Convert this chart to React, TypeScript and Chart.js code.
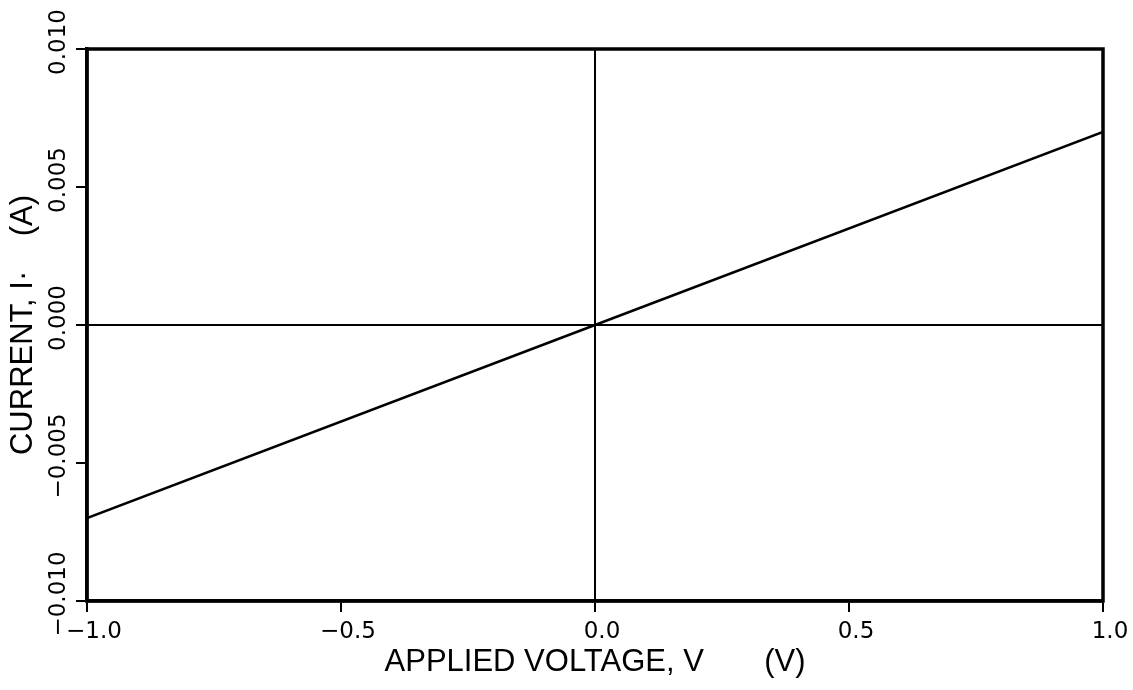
import React, { useEffect, useRef } from "react";
import { Chart, registerables } from "chart.js";

Chart.register(...registerables);

const voltage = [-1.0, 0.0, 1.0];
const current = [-0.0070, 0.0, 0.0070];
const xTicks = [-1.0, -0.5, 0.0, 0.5, 1.0];
const yTicks = [-0.01, -0.005, 0.0, 0.005, 0.01];

const TICK_FONT = "'DejaVu Sans', sans-serif";
const TITLE_FONT = "'Liberation Sans', 'DejaVu Sans', sans-serif";

const frame = {
  id: "frame",
  afterDraw(chart: any) {
    const { ctx, chartArea: a } = chart;
    ctx.save();
    ctx.strokeStyle = "#000";
    ctx.lineWidth = 3.5;
    ctx.strokeRect(a.left, a.top, a.right - a.left, a.bottom - a.top);
    ctx.restore();
  },
};

function fmt(v: number, d: number) {
  const s = Math.abs(v).toFixed(d);
  return v < -1e-12 ? "\u2212" + s : s;
}

const zeroOnly = (c: any) =>
  c.tick && Math.abs(c.tick.value) < 1e-9 ? "#000" : "rgba(0,0,0,0)";

export default function App() {
  const ref = useRef<HTMLCanvasElement>(null);
  useEffect(() => {
    document.body.style.margin = "0";
    const chart = new Chart(ref.current!, {
      type: "line",
      data: {
        datasets: [
          {
            data: voltage.map((v, i) => ({ x: v, y: current[i] })),
            borderColor: "#000",
            borderWidth: 2.5,
            pointRadius: 0,
            tension: 0,
          },
        ],
      },
      options: {
        animation: false,
        responsive: false,
        plugins: { legend: { display: false }, tooltip: { enabled: false } },
        layout: { padding: { top: 49, right: 30, left: 0, bottom: 0 } },
        scales: {
          x: {
            type: "linear",
            min: -1,
            max: 1,
            afterBuildTicks: (s: any) => {
              s.ticks = xTicks.map((v) => ({ value: v }));
            },
            afterFit: (s: any) => {
              s.height = 89;
            },
            grid: {
              color: zeroOnly,
              lineWidth: 2,
              tickColor: "#000",
              tickLength: 11,
              tickWidth: 2,
            },
            border: { display: true, color: "#000", width: 3.5 },
            ticks: {
              color: "#000",
              font: { family: TICK_FONT, size: 23 },
              padding: 6,
              labelOffset: 7,
              maxRotation: 0,
              minRotation: 0,
              callback: (v: any) => fmt(Number(v), 1),
            },
            title: {
              display: true,
              text: "APPLIED VOLTAGE, V       (V)",
              color: "#000",
              font: { family: TITLE_FONT, size: 31 },
              padding: { top: 0, bottom: 9 },
            },
          },
          y: {
            type: "linear",
            min: -0.01,
            max: 0.01,
            afterBuildTicks: (s: any) => {
              s.ticks = yTicks.map((v) => ({ value: v }));
            },
            afterFit: (s: any) => {
              s.width = 87;
            },
            grid: {
              color: zeroOnly,
              lineWidth: 2,
              tickColor: "#000",
              tickLength: 11,
              tickWidth: 2,
            },
            border: { display: true, color: "#000", width: 3.5 },
            ticks: {
              color: "#000",
              font: { family: TICK_FONT, size: 23 },
              padding: -26,
              labelOffset: -7,
              minRotation: 90,
              maxRotation: 90,
              crossAlign: "center",
              callback: (v: any) => fmt(Number(v), 3),
            },
            title: {
              display: true,
              text: "CURRENT, I\u00B7    (A)",
              color: "#000",
              font: { family: TITLE_FONT, size: 31 },
              padding: { top: 5, bottom: 0 },
            },
          },
        },
      },
      plugins: [frame],
    });
    return () => chart.destroy();
  }, []);
  return <canvas ref={ref} width={1133} height={690} style={{ display: "block" }} />;
}
